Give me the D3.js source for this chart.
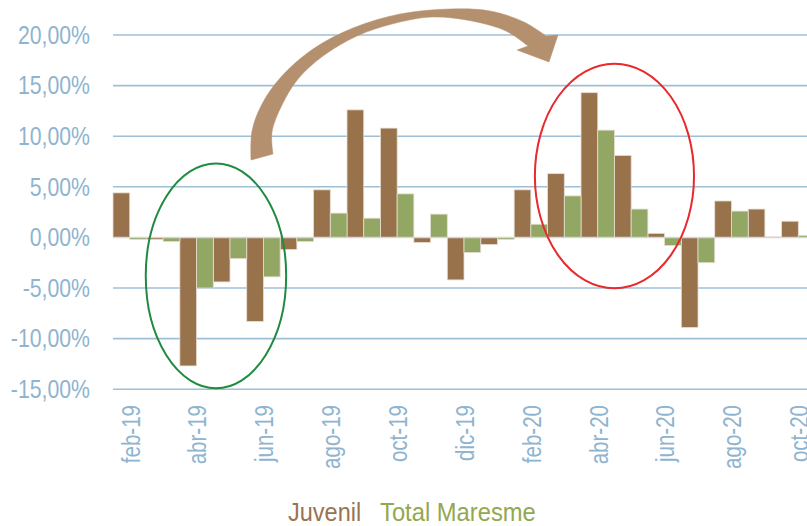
<!DOCTYPE html>
<html>
<head>
<meta charset="utf-8">
<script src="https://cdn.jsdelivr.net/npm/d3@7"></script>
<style>
  html, body { margin: 0; padding: 0; background: #fff; }
  svg { display: block; font-family: "Liberation Sans", Arial, sans-serif; }
</style>
</head>
<body>
<svg id="chart" width="807" height="526"></svg>
<script>
// ---- Data ----
const months = ["feb-19","mar-19","abr-19","may-19","jun-19","jul-19","ago-19","sep-19","oct-19","nov-19","dic-19","ene-20",
                "feb-20","mar-20","abr-20","may-20","jun-20","jul-20","ago-20","sep-20","oct-20"];
const juvenil = [4.4,-0.2,-12.7,-4.4,-8.3,-1.2,4.7,12.6,10.8,-0.5,-4.2,-0.7,
                 4.7,6.3,14.3,8.1,0.4,-8.9,3.6,2.8,1.6];
const totalMaresme = [-0.2,-0.4,-5.0,-2.1,-3.9,-0.4,2.4,1.9,4.3,2.3,-1.5,-0.2,
                      1.3,4.1,10.6,2.8,-0.8,-2.5,2.6,0.05,0.2];
const yTicks = [-15,-10,-5,0,5,10,15,20];
const xTickLabels = ["feb-19","abr-19","jun-19","ago-19","oct-19","dic-19","feb-20","abr-20","jun-20","ago-20","oct-20"];
const seriesNames = ["Juvenil","Total Maresme"];

// Annotations (in data units: month index, percent)
const greenEllipse = {cx: 3.08, cy: -3.8, rx: 2.1, ry: 11.1};
const redEllipse   = {cx: 15.0, cy: 6.07, rx: 2.38, ry: 11.1};

// ---- Layout ----
const svg = d3.select("#chart");
const plotLeft = 113, step = 33.43;
const x = d3.scaleBand().domain(months).range([plotLeft, plotLeft + step * months.length]).paddingInner(0).paddingOuter(0);
const y = d3.scaleLinear().domain([-15, 20]).range([389.2, 35.0]);
const xIdx = d3.scaleLinear().domain([0, months.length]).range([plotLeft, plotLeft + step * months.length]);

const colors = {juv: "#98724B", tot: "#92A763", grid: "#9FBFD6", label: "#8EB4CF"};
const locale = d3.formatLocale({decimal: ",", thousands: ".", grouping: [3], currency: ["", "€"], minus: "-"});
const fmt = locale.format(".2f");

function squeeze(sel, factor) {
  sel.each(function() {
    const w = this.getComputedTextLength();
    this.setAttribute("textLength", (w * factor).toFixed(2));
    this.setAttribute("lengthAdjust", "spacingAndGlyphs");
  });
}

// Gridlines
svg.append("g").selectAll("line").data(yTicks.filter(d => d !== 0)).join("line")
  .attr("x1", plotLeft).attr("x2", 807)
  .attr("y1", d => y(d)).attr("y2", d => y(d))
  .attr("stroke", colors.grid).attr("stroke-width", 1.6);

// Y axis labels
const yl = svg.append("g").selectAll("text").data(yTicks).join("text")
  .attr("x", 90).attr("y", d => y(d)).attr("dy", "0.35em")
  .attr("text-anchor", "end")
  .attr("font-size", 25).attr("fill", colors.label)
  .text(d => fmt(d) + "%");
squeeze(yl, 0.85);

// Bars
const half = x.bandwidth() / 2;
const barG = svg.append("g");
barG.selectAll("rect.j").data(months).join("rect").attr("class", "j")
  .attr("x", d => x(d))
  .attr("width", half)
  .attr("y", (d, i) => y(Math.max(0, juvenil[i])))
  .attr("height", (d, i) => Math.abs(y(juvenil[i]) - y(0)))
  .attr("fill", colors.juv).attr("stroke", "#E6DDD2").attr("stroke-width", 0.8);
barG.selectAll("rect.t").data(months).join("rect").attr("class", "t")
  .attr("x", d => x(d) + half)
  .attr("width", half)
  .attr("y", (d, i) => y(Math.max(0, totalMaresme[i])))
  .attr("height", (d, i) => Math.abs(y(totalMaresme[i]) - y(0)))
  .attr("fill", colors.tot).attr("stroke", "#E6DDD2").attr("stroke-width", 0.8);

// Zero line
svg.append("line").attr("x1", plotLeft).attr("x2", 807)
  .attr("y1", y(0)).attr("y2", y(0))
  .attr("stroke", "#D6D6D6").attr("stroke-width", 1.5);

// X axis labels (rotated)
const xl = svg.append("g").selectAll("text").data(xTickLabels).join("text")
  .attr("transform", d => `translate(${x(d) + x.bandwidth() / 2},405) rotate(-90)`)
  .attr("text-anchor", "end").attr("dy", "0.38em")
  .attr("font-size", 26).attr("fill", colors.label)
  .text(d => d);
squeeze(xl, 0.79);

// Ellipses
[[greenEllipse, "#1F8B41"], [redEllipse, "#E9292B"]].forEach(([e, c]) => {
  svg.append("ellipse")
    .attr("cx", xIdx(e.cx)).attr("cy", y(e.cy))
    .attr("rx", xIdx(e.rx) - xIdx(0)).attr("ry", y(0) - y(e.ry))
    .attr("fill", "none").attr("stroke", c).attr("stroke-width", 2);
});

// Curved arrow annotation
const outer = [[251,160],[252,131],[262,104],[281,77],[313,49],[353,28],[400,14],[450,9],[490,11],[524,22],[546,36]];
const inner = [[528,46],[506,31],[472,21],[432,17],[392,24],[357,36],[323,56],[298,79],[282,105],[272,132],[273,154]];
const head = [[546,36],[558,35],[549,62],[517,50],[528,46]];
const lineGen = d3.line().curve(d3.curveCatmullRom.alpha(0.5));
const p1 = lineGen(outer);
const p2 = lineGen(inner).replace(/^M/, "L");
const ph = head.slice(1).map(p => "L" + p[0] + "," + p[1]).join("");
svg.append("path")
  .attr("d", p1 + ph + p2 + "Z")
  .attr("fill", "#B5906F").attr("stroke", "#B5906F").attr("stroke-width", 0.5);

// Legend
const lg = svg.append("g");
const t1 = lg.append("text").attr("x", 288).attr("y", 521).attr("font-size", 25)
  .attr("fill", "#9A7350").text(seriesNames[0]);
const t2 = lg.append("text").attr("x", 380).attr("y", 521).attr("font-size", 25)
  .attr("fill", "#93A84E").text(seriesNames[1]);
squeeze(t1, 0.94);
squeeze(t2, 0.95);
</script>
</body>
</html>
